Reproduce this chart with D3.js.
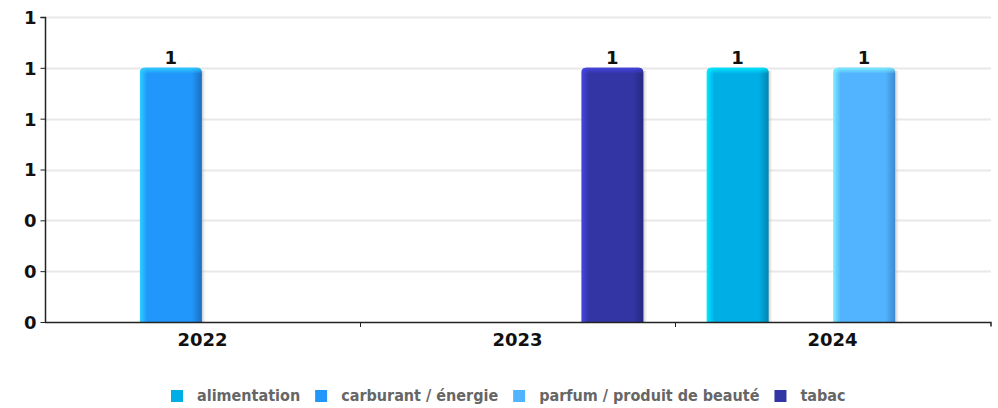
<!DOCTYPE html>
<html><head><meta charset="utf-8">
<script src="https://cdn.jsdelivr.net/npm/d3@7"></script>
<style>
html,body{margin:0;padding:0;background:#fff;}
svg{display:block;}
</style></head>
<body>
<svg id="chart" width="998" height="408"></svg>
<script>
const years = ["2022", "2023", "2024"];
const seriesNames = ["alimentation", "carburant / énergie", "parfum / produit de beauté", "tabac"];
const seriesColors = ["#00aee6", "#2196fb", "#52b4ff", "#3235a3"];
const seriesLight = ["#00ecff", "#2dd0ff", "#7ef0ff", "#4646e6"];
const seriesDark = ["#0086b0", "#1a6fc0", "#3b8ad0", "#262880"];
// values per series, per year (null = no bar)
const alimentationValues = [null, null, 1];
const carburantValues = [1, null, null];
const parfumValues = [null, null, 1];
const tabacValues = [null, 1, null];
const yTickValues = [0, 0.2, 0.4, 0.6, 0.8, 1.0, 1.2];
const yTickLabels = ["0", "0", "0", "1", "1", "1", "1"];

const seriesValues = [alimentationValues, carburantValues, parfumValues, tabacValues];

const svg = d3.select("#chart");
const m = {left: 45, right: 990, top: 17, bottom: 322};

const y = d3.scaleLinear().domain([0, 1.2]).range([m.bottom, m.top]);
const x0 = d3.scaleBand().domain(years).range([m.left, m.right]).padding(0);
const x1 = d3.scaleBand().domain(seriesNames).range([0, x0.bandwidth()]).paddingInner(0.02).paddingOuter(0.5);

const defs = svg.append("defs");
seriesNames.forEach((s, i) => {
  const g = defs.append("linearGradient").attr("id", "grad" + i).attr("x1", "0%").attr("x2", "100%").attr("y1", "0%").attr("y2", "0%");
  g.append("stop").attr("offset", "0%").attr("stop-color", seriesLight[i]);
  g.append("stop").attr("offset", "12%").attr("stop-color", seriesColors[i]);
  g.append("stop").attr("offset", "84%").attr("stop-color", seriesColors[i]);
  g.append("stop").attr("offset", "100%").attr("stop-color", seriesDark[i]);
  const t = defs.append("linearGradient").attr("id", "top" + i).attr("x1", "0%").attr("x2", "0%").attr("y1", "0%").attr("y2", "100%");
  t.append("stop").attr("offset", "0%").attr("stop-color", seriesLight[i]).attr("stop-opacity", 0.9);
  t.append("stop").attr("offset", "100%").attr("stop-color", seriesLight[i]).attr("stop-opacity", 0);
});
const sh = defs.append("linearGradient").attr("id", "shadow").attr("x1", "0%").attr("x2", "100%");
sh.append("stop").attr("offset", "0%").attr("stop-color", "#999").attr("stop-opacity", 0.7);
sh.append("stop").attr("offset", "100%").attr("stop-color", "#ccc").attr("stop-opacity", 0);

// gridlines
svg.append("g").selectAll("line").data(yTickValues.slice(1)).join("line")
  .attr("x1", m.left).attr("x2", m.right + 1)
  .attr("y1", d => Math.round(y(d)) + 0.5).attr("y2", d => Math.round(y(d)) + 0.5)
  .attr("stroke", "#e8e8e8").attr("stroke-width", 2);

// bars
const barData = [];
seriesNames.forEach((s, i) => {
  years.forEach((yr, j) => {
    const v = seriesValues[i][j];
    if (v != null) barData.push({s, i, yr, v});
  });
});

const bars = svg.append("g").selectAll("g").data(barData).join("g")
  .attr("transform", d => `translate(${x0(d.yr) + x1(d.s)},0)`);

const r = 5;
function topRounded(w, yTop, yBot) {
  return `M0,${yBot} L0,${yTop + r} Q0,${yTop} ${r},${yTop} L${w - r},${yTop} Q${w},${yTop} ${w},${yTop + r} L${w},${yBot} Z`;
}
bars.append("rect")
  .attr("x", x1.bandwidth() - 1).attr("width", 5)
  .attr("y", d => y(d.v) + 3).attr("height", d => m.bottom - y(d.v) - 3)
  .attr("fill", "url(#shadow)");
bars.append("path")
  .attr("d", d => topRounded(x1.bandwidth(), y(d.v), m.bottom))
  .attr("fill", d => `url(#grad${d.i})`);
bars.append("path")
  .attr("d", d => topRounded(x1.bandwidth(), y(d.v), y(d.v) + 6))
  .attr("fill", d => `url(#top${d.i})`);

const labelFont = "DejaVu Sans";
// value labels
svg.append("g").selectAll("text").data(barData).join("text")
  .attr("x", d => x0(d.yr) + x1(d.s) + x1.bandwidth() / 2)
  .attr("y", d => y(d.v) - 4)
  .attr("text-anchor", "middle")
  .attr("font-family", labelFont)
  .attr("font-weight", "bold").attr("font-size", 18).attr("fill", "#111")
  .text(d => d.v);

// y axis
const yAxis = d3.axisLeft(y).tickValues(yTickValues).tickSize(5).tickPadding(4)
  .tickFormat((d, i) => yTickLabels[i]);
const gy = svg.append("g").attr("transform", `translate(${m.left + 0.5},0)`).call(yAxis);
gy.select(".domain").attr("stroke", "#222").attr("stroke-width", 1.5).attr("d", `M-5,${m.top + 0.5}H0V${m.bottom}`);
gy.selectAll(".tick line").attr("stroke", "#222");
gy.selectAll(".tick text").attr("font-family", labelFont).attr("font-weight", "bold").attr("font-size", 18).attr("fill", "#111").attr("dy", "0.36em");

// x axis
const xAxis = d3.axisBottom(x0).tickSize(0).tickPadding(11);
const gx = svg.append("g").attr("transform", `translate(0,${m.bottom + 0.5})`).call(xAxis);
gx.select(".domain").attr("stroke", "#222").attr("stroke-width", 1.5).attr("d", `M${m.left},0H${m.right + 1}V4`);
gx.selectAll(".tick text").attr("font-family", labelFont).attr("font-weight", "bold").attr("font-size", 18).attr("fill", "#111").attr("dy", "0.71em");
svg.append("g").selectAll("line").data(years.slice(1)).join("line")
  .attr("x1", d => Math.round(x0(d)) + 0.5).attr("x2", d => Math.round(x0(d)) + 0.5)
  .attr("y1", m.bottom).attr("y2", m.bottom + 5)
  .attr("stroke", "#222").attr("stroke-width", 1);

// legend
const legend = svg.append("g");
const items = legend.selectAll("g").data(seriesNames).join("g");
items.append("rect").attr("width", 12).attr("height", 12).attr("y", -11)
  .attr("fill", (d, i) => seriesColors[i]);
items.append("text").attr("x", 26).attr("y", 0)
  .attr("font-family", "DejaVu Sans Condensed, DejaVu Sans").attr("font-weight", "bold")
  .attr("font-size", 16).attr("fill", "#666").text(d => d);
let xpos = 0;
items.each(function () {
  const w = d3.select(this).select("text").node().getComputedTextLength();
  d3.select(this).attr("transform", `translate(${xpos},0)`);
  xpos += 26 + w + 15;
});
const totalW = xpos - 15;
legend.attr("transform", `translate(${Math.round(508.5 - totalW / 2)},401)`);
</script>
</body></html>
